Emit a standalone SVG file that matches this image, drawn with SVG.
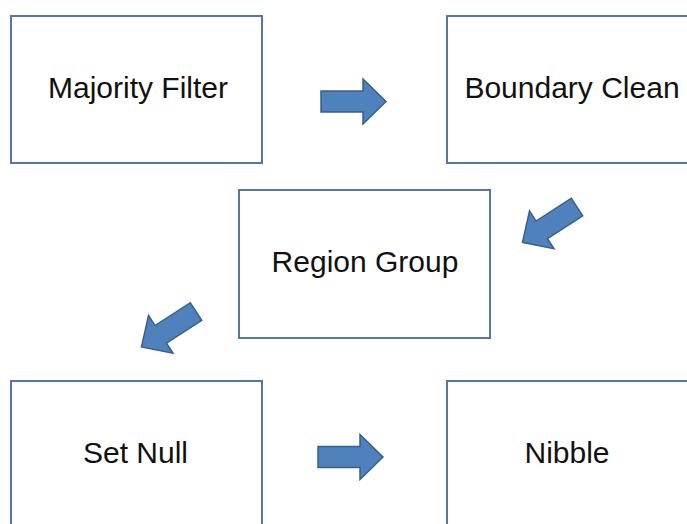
<svg xmlns="http://www.w3.org/2000/svg" width="687" height="524" viewBox="0 0 687 524">
<style>
.box{fill:#fff;stroke:#5677a3;stroke-width:2}
.lbl{font-family:"Liberation Sans",Arial,sans-serif;font-size:30px;fill:#111;text-anchor:middle}
.arr{fill:#4f81bd;stroke:#3a5f8c;stroke-width:1.5;stroke-linejoin:miter}
</style>
<defs>
<path id="arrow" d="M0,-10.5 H42 V-22.5 L65,0 L42,22.5 V10.5 H0 Z"/>
</defs>
<rect width="687" height="524" fill="#fff"/>
<g id="majority-filter"><rect class="box" x="11" y="16" width="251" height="147"/><text class="lbl" x="138" y="98">Majority Filter</text></g>
<g id="boundary-clean"><rect class="box" x="447" y="16" width="251" height="147"/><text class="lbl" x="572" y="98">Boundary Clean</text></g>
<g id="region-group"><rect class="box" x="239" y="190" width="251" height="148"/><text class="lbl" x="365" y="272">Region Group</text></g>
<g id="set-null"><rect class="box" x="11" y="381" width="251" height="160"/><text class="lbl" x="135.5" y="463">Set Null</text></g>
<g id="nibble"><rect class="box" x="447" y="381" width="251" height="160"/><text class="lbl" x="567" y="463">Nibble</text></g>
<g id="connectors">
<use href="#arrow" class="arr" transform="translate(321,101.5)"/>
<use href="#arrow" class="arr" transform="translate(577,207) rotate(147)"/>
<use href="#arrow" class="arr" transform="translate(196,311.5) rotate(147)"/>
<use href="#arrow" class="arr" transform="translate(318,457)"/>
</g>
</svg>
